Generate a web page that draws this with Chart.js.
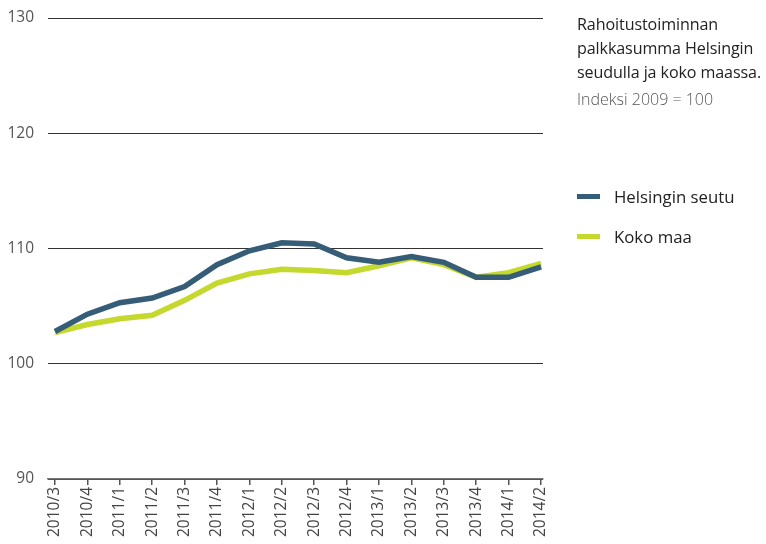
<html>
<head>
<meta charset="UTF-8">
<script src="https://cdn.jsdelivr.net/npm/chart.js"></script>
<style>
  body { margin: 0; background: #fff; font-family: "Open Sans", sans-serif; }
  #wrap { position: relative; width: 766px; height: 544px; overflow: hidden; }
  .side { position: absolute; left: 577px; color: #222; white-space: nowrap; }
  .title { top: 12px; font-size: 16.1px; line-height: 24px; letter-spacing: -0.1px; }
  .sub { top: 88px; font-size: 16px; color: #555; font-weight: 300; }
  .leg { position: absolute; left: 577px; font-size: 16.8px; color: #222; display: flex; align-items: center; white-space: nowrap; }
  .leg span { display: inline-block; width: 23px; height: 5px; margin-right: 14px; }
</style>
</head>
<body>
<div id="wrap">
  <canvas id="myChart" width="766" height="544"></canvas>
  <div class="side title">Rahoitustoiminnan<br>palkkasumma Helsingin<br>seudulla ja koko maassa.</div>
  <div class="side sub">Indeksi 2009 = 100</div>
  <div class="leg" style="top:185px"><span style="background:#365d77"></span>Helsingin seutu</div>
  <div class="leg" style="top:225px"><span style="background:#c4d82d"></span>Koko maa</div>
</div>
<script>
const labels = ['2010/3','2010/4','2011/1','2011/2','2011/3','2011/4','2012/1','2012/2','2012/3','2012/4','2013/1','2013/2','2013/3','2013/4','2014/1','2014/2'];
const helsinki = [102.8, 104.3, 105.3, 105.7, 106.7, 108.6, 109.8, 110.5, 110.4, 109.2, 108.8, 109.3, 108.8, 107.5, 107.5, 108.4];
const kokoMaa = [102.7, 103.4, 103.9, 104.2, 105.5, 107.0, 107.8, 108.2, 108.1, 107.9, 108.5, 109.2, 108.6, 107.5, 107.9, 108.7];
const yTicks = [90, 100, 110, 120, 130];

const toPoints = arr => arr.map((v, i) => ({x: i, y: v}));

new Chart(document.getElementById('myChart'), {
  type: 'line',
  data: {
    datasets: [
      { label: 'Helsingin seutu', data: toPoints(helsinki), borderColor: '#365d77', borderWidth: 5.5, pointRadius: 0, tension: 0 },
      { label: 'Koko maa', data: toPoints(kokoMaa), borderColor: '#c4d82d', borderWidth: 5.5, pointRadius: 0, tension: 0 }
    ]
  },
  options: {
    responsive: false,
    animation: false,
    layout: { padding: { top: 18, right: 223, left: 0, bottom: 0 } },
    plugins: { legend: { display: false }, tooltip: { enabled: false } },
    scales: {
      x: {
        type: 'linear',
        min: -0.216,
        max: 15.06,
        afterBuildTicks: s => { s.ticks = labels.map((_, i) => ({value: i})); },
        afterFit: s => { s.height = 65; },
        ticks: {
          autoSkip: false, minRotation: 90, maxRotation: 90, padding: 2,
          color: '#444', font: { family: 'Open Sans', size: 15.5 },
          callback: v => labels[v]
        },
        grid: { drawOnChartArea: false, drawTicks: true, tickLength: 6, color: '#555', lineWidth: 1.5 },
        border: { display: true, color: '#777', width: 1.5 }
      },
      y: {
        min: 90, max: 130,
        afterBuildTicks: s => { s.ticks = yTicks.map(v => ({value: v})); },
        afterFit: s => { s.width = 48; },
        ticks: { padding: 14, color: '#555', font: { family: 'Open Sans', size: 15.5, lineHeight: 0.5 } },
        grid: { drawTicks: false, color: '#333', lineWidth: 1 },
        border: { display: false }
      }
    }
  }
});
</script>
</body>
</html>
